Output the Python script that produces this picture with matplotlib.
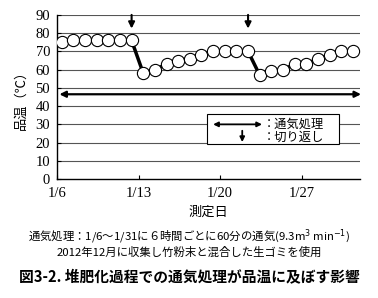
import numpy as np
import matplotlib.pyplot as plt
from matplotlib.patches import Rectangle

# データ（1/6〜1/31 の品温）
days = np.arange(26)
temps = [75, 76, 76, 76, 76, 76, 76,
         58, 60, 63, 65, 66, 68, 70, 70, 70, 70,
         57, 59, 60, 63, 63, 66, 68, 70, 70]
turn_days = [6, 16]          # 切り返し
tick_days = [0, 7, 14, 21]
tick_labels = ['1/6', '1/13', '1/20', '1/27']
yticks = list(range(0, 100, 10))

jp = ['Noto Sans CJK JP', 'DejaVu Sans']
num = 'Liberation Serif'

fig = plt.figure(figsize=(3.78, 2.98), dpi=100)
ax = fig.add_axes([0.151, 0.399, 0.801, 0.551])

x = days + 0.4
ax.plot(x, temps, color='black', lw=2.5, marker='o', ms=8.8,
        mfc='white', mec='black', mew=0.8, zorder=4)

# 切り返し矢印
for d in turn_days:
    ax.annotate('', xy=(d + 0.4, 82.5), xytext=(d + 0.4, 90),
                arrowprops=dict(arrowstyle='-|>', color='black', lw=1.5,
                                mutation_scale=9, shrinkA=0, shrinkB=0),
                zorder=5, annotation_clip=False)

# 通気処理の期間
ax.annotate('', xy=(26.1, 46.5), xytext=(0.2, 46.5),
            arrowprops=dict(arrowstyle='<|-|>', color='black', lw=1.6,
                            mutation_scale=9, shrinkA=0, shrinkB=0),
            zorder=5, annotation_clip=False)

# 凡例ボックス
ax.add_patch(Rectangle((12.9, 19), 11.3, 16.5, facecolor='white',
                       edgecolor='black', lw=0.8, zorder=3))
ax.annotate('', xy=(17.6, 30), xytext=(13.4, 30),
            arrowprops=dict(arrowstyle='<|-|>', color='black', lw=1.3,
                            mutation_scale=7, shrinkA=0, shrinkB=0), zorder=5)
ax.text(17.7, 30, '：通気処理', family=jp, fontsize=8.8, va='center', zorder=5)
ax.annotate('', xy=(15.9, 20.3), xytext=(15.9, 26.5),
            arrowprops=dict(arrowstyle='-|>', color='black', lw=1.3,
                            mutation_scale=7, shrinkA=0, shrinkB=0), zorder=5)
ax.text(17.7, 23, '：切り返し', family=jp, fontsize=8.8, va='center', zorder=5)

ax.set_xlim(0, 26)
ax.set_ylim(0, 90)
ax.set_yticks(yticks)
ax.set_xticks(tick_days)
ax.set_xticklabels(tick_labels, fontfamily=num, fontsize=10.5)
ax.set_yticklabels([str(v) for v in yticks], fontfamily=num, fontsize=10.5)
ax.tick_params(direction='in', length=3, width=0.8)
ax.tick_params(axis='y', pad=5)
ax.tick_params(axis='x', pad=6)
for v in yticks[1:]:
    ax.axhline(v, color='#555555', lw=0.8, zorder=1)
ax.spines['right'].set_visible(False)
ax.spines['top'].set_visible(False)
ax.spines['left'].set_linewidth(1.0)
ax.spines['bottom'].set_linewidth(1.0)

ax.set_ylabel('品温（℃）', family=jp, fontsize=9.5, labelpad=6)
ax.set_xlabel('測定日', family=jp, fontsize=9.5, labelpad=4)

fig.text(0.50, 0.205, '通気処理：1/6～1/31に６時間ごとに60分の通気(9.3m$^3$ min$^{-1}$)',
         family=jp, fontsize=8.2, ha='center', va='center')
fig.text(0.50, 0.155, '2012年12月に収集し竹粉末と混合した生ゴミを使用',
         family=jp, fontsize=8.2, ha='center', va='center')
fig.text(0.50, 0.068, '図3-2. 堆肥化過程での通気処理が品温に及ぼす影響',
         family=jp, fontsize=10.6, fontweight='bold', ha='center', va='center')

fig.savefig('out.png', dpi=100)
